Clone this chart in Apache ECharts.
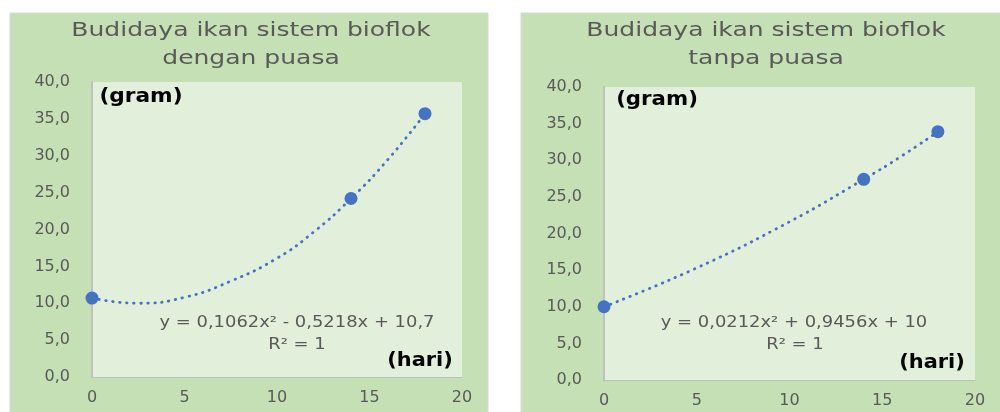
<!DOCTYPE html>
<html>
<head>
<meta charset="utf-8">
<script src="https://cdn.jsdelivr.net/npm/echarts@6/dist/echarts.min.js"></script>
<style>
  html, body { margin: 0; padding: 0; background: #ffffff; }
  #chart { width: 1000px; height: 412px; }
</style>
</head>
<body>
<div id="chart"></div>
<script>
// hari pengamatan dan berat ikan (gram)
const hari = [0, 14, 18];
const beratDenganPuasa = [10.7, 24.2, 35.7];
const beratTanpaPuasa = [10.0, 27.4, 33.9];

// titik garis tren
const trenHariA = [0, 2.5, 5, 7.5, 10, 12, 14, 16, 18];
const trenDenganPuasa = [10.7, 10.0, 10.8, 13.0, 16.1, 19.7, 24.2, 29.5, 35.7];
const trenHariB = [0, 5, 10, 14, 16, 18];
const trenTanpaPuasa = [10.0, 15.3, 21.6, 27.4, 30.5, 33.9];

const xTicks = [0, 5, 10, 15, 20];
const yTicks = [0, 5, 10, 15, 20, 25, 30, 35, 40];

const BLUE = '#4472c4';
const GREY = '#595959';
const FONT = '"DejaVu Sans", "Open Sans", sans-serif';

const zip = (xs, ys) => xs.map((x, i) => [x, ys[i]]);

function xAxisFor(idx) {
  return {
    gridIndex: idx, type: 'value',
    min: xTicks[0], max: xTicks[xTicks.length - 1], interval: 5,
    axisLine: { show: true, lineStyle: { color: '#bfbfbf', width: 1 } },
    axisTick: { show: false },
    splitLine: { show: false },
    axisLabel: { color: GREY, fontSize: 16, fontFamily: FONT, margin: 13 }
  };
}

function yAxisFor(idx) {
  return {
    gridIndex: idx, type: 'value',
    min: yTicks[0], max: yTicks[yTicks.length - 1], interval: 5,
    axisLine: { show: true, lineStyle: { color: '#bfbfbf', width: 2 } },
    axisTick: { show: false },
    splitLine: { show: false },
    axisLabel: {
      color: GREY, fontSize: 16, fontFamily: FONT, margin: 22,
      formatter: v => v.toFixed(1).replace('.', ',')
    }
  };
}

function trendSeries(idx, data) {
  return {
    type: 'line', xAxisIndex: idx, yAxisIndex: idx,
    data: data, smooth: true, showSymbol: false, silent: true,
    lineStyle: { color: BLUE, width: 2.8, type: [0.5, 6.5], cap: 'round' },
    z: 2
  };
}

function pointSeries(idx, data) {
  return {
    type: 'scatter', xAxisIndex: idx, yAxisIndex: idx,
    data: data, symbolSize: 13,
    itemStyle: { color: BLUE, opacity: 1 },
    z: 3
  };
}

// teks di posisi tetap; sx melebarkan huruf seperti di gambar asli
function txt(x, y, text, sx, opts) {
  return {
    type: 'text', x: x, y: y, scaleX: sx,
    style: Object.assign({
      text: text, fill: GREY, fontSize: 15, fontFamily: FONT,
      align: 'center', verticalAlign: 'middle'
    }, opts || {})
  };
}

const titleStyle = { fontSize: 20 };
const unitStyle = { fill: '#000000', fontWeight: 'bold', fontSize: 19 };
const eqStyle = { fontSize: 16 };

const option = {
  animation: false,
  backgroundColor: '#ffffff',
  graphic: [
    { type: 'rect', shape: { x: 10, y: 13, width: 478, height: 410 },
      style: { fill: '#c5e0b4', stroke: '#d9d9d9', lineWidth: 1 }, z: -10 },
    { type: 'rect', shape: { x: 521, y: 13, width: 490, height: 410 },
      style: { fill: '#c5e0b4', stroke: '#d9d9d9', lineWidth: 1 }, z: -10 },
    txt(251, 31, 'Budidaya ikan sistem bioflok', 1.25, titleStyle),
    txt(251, 59, 'dengan puasa', 1.25, titleStyle),
    txt(766, 31, 'Budidaya ikan sistem bioflok', 1.25, titleStyle),
    txt(766, 59, 'tanpa puasa', 1.25, titleStyle),
    txt(141, 97, '(gram)', 1.14, unitStyle),
    txt(657, 100, '(gram)', 1.12, unitStyle),
    txt(420, 361, '(hari)', 1.1, unitStyle),
    txt(932, 363, '(hari)', 1.1, unitStyle),
    txt(297, 323, 'y = 0,1062x² - 0,5218x + 10,7', 1.12, eqStyle),
    txt(297, 345, 'R² = 1', 1.12, eqStyle),
    txt(794, 323, 'y = 0,0212x² + 0,9456x + 10', 1.12, eqStyle),
    txt(795, 345, 'R² = 1', 1.12, eqStyle)
  ],
  grid: [
    { left: 92, top: 82, width: 370, height: 295, show: true,
      backgroundColor: '#e2efda', borderWidth: 0 },
    { left: 604, top: 87, width: 371, height: 293, show: true,
      backgroundColor: '#e2efda', borderWidth: 0 }
  ],
  xAxis: [xAxisFor(0), xAxisFor(1)],
  yAxis: [yAxisFor(0), yAxisFor(1)],
  series: [
    trendSeries(0, zip(trenHariA, trenDenganPuasa)),
    pointSeries(0, zip(hari, beratDenganPuasa)),
    trendSeries(1, zip(trenHariB, trenTanpaPuasa)),
    pointSeries(1, zip(hari, beratTanpaPuasa))
  ]
};

const chart = echarts.init(document.getElementById('chart'), null, { renderer: 'canvas' });
chart.setOption(option);
</script>
</body>
</html>
